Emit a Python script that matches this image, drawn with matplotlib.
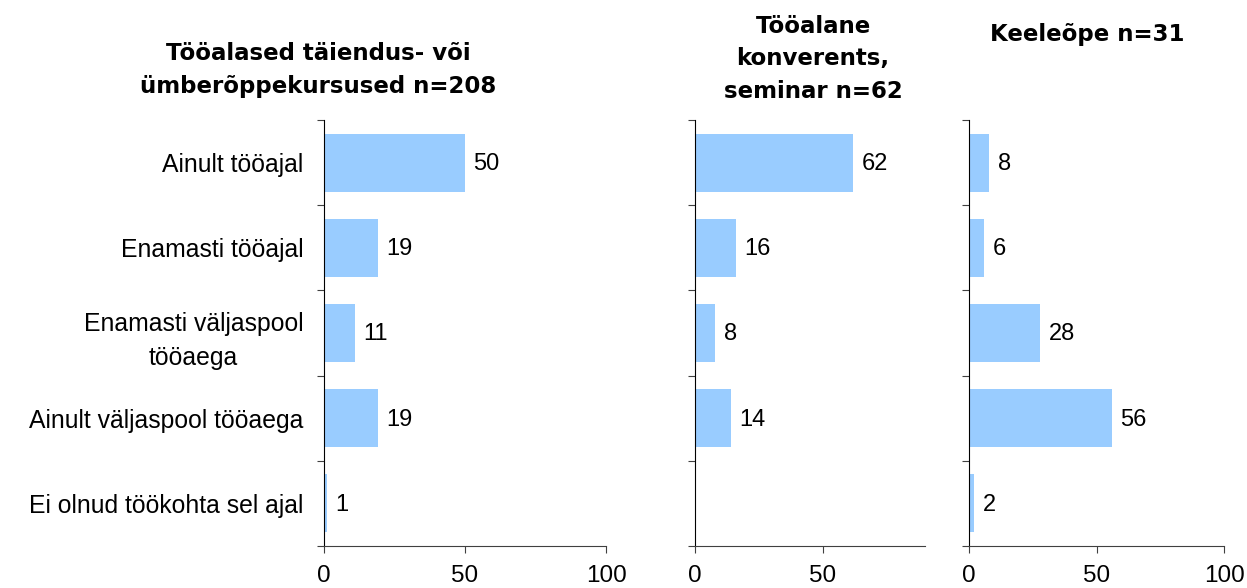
import matplotlib
matplotlib.use('Agg')
import matplotlib.pyplot as plt
import numpy as np

plt.rcParams['font.family'] = ['Liberation Sans', 'DejaVu Sans']

categories = ["Ainult tööajal", "Enamasti tööajal", "Enamasti väljaspool\ntööaega",
              "Ainult väljaspool tööaega", "Ei olnud töökohta sel ajal"]
titles = ["Tööalased täiendus- või\nümberõppekursused n=208",
          "Tööalane\nkonverents,\nseminar n=62",
          "Keeleõpe n=31"]
kursused = [50, 19, 11, 19, 1]
konverents = [62, 16, 8, 14, None]
keeleope = [8, 6, 28, 56, 2]
series = [kursused, konverents, keeleope]
xmax = [100, 90, 100]
xticks = [[0, 50, 100], [0, 50], [0, 50, 100]]

W, H = 1247, 588
fig = plt.figure(figsize=(W / 100, H / 100), dpi=100)

# axes boxes in pixels: left, right
boxes = [(324, 606), (695, 925), (969, 1224)]
top, bottom = 120, 546
title_pos = [(318, 70), (813, 59), (1087, 35)]

bar_color = '#99CCFF'
axis_color = '#404040'
fs = 17

for i, vals in enumerate(series):
    l, r = boxes[i]
    ax = fig.add_axes([l / W, 1 - bottom / H, (r - l) / W, (bottom - top) / H])
    y = np.arange(len(categories))
    v = np.array([np.nan if x is None else x for x in vals], dtype=float)
    ax.barh(y, np.nan_to_num(v), height=0.68, color=bar_color)
    for yi, val in zip(y, vals):
        if val is None:
            continue
        ax.annotate(str(val), (val, yi), xytext=(6, -1), textcoords='offset points',
                    va='center', ha='left', fontsize=fs)
    ax.set_xlim(0, xmax[i])
    ax.set_ylim(len(categories) - 0.5, -0.5)
    ax.set_xticks(xticks[i])
    ax.tick_params(axis='x', labelsize=17.5, length=5, color=axis_color, pad=8.5)
    ax.set_yticks(np.arange(len(categories) + 1) - 0.5)
    ax.set_yticklabels([])
    ax.tick_params(axis='y', length=5, color=axis_color)
    if i == 0:
        ax.set_yticks(y, minor=True)
        ax.set_yticklabels(categories, minor=True, fontsize=17.8, multialignment='center',
                           linespacing=1.55)
        ax.tick_params(axis='y', which='minor', length=0, pad=15)
    for s in ['top', 'right']:
        ax.spines[s].set_visible(False)
    ax.spines['left'].set_color('black')
    ax.spines['bottom'].set_color(axis_color)
    tx, ty = title_pos[i]
    fig.text(tx / W, 1 - ty / H, titles[i], ha='center', va='center',
             fontsize=16.5, fontweight='bold', linespacing=1.55,
             family=['DejaVu Sans'])

fig.savefig('out.png', dpi=100)
